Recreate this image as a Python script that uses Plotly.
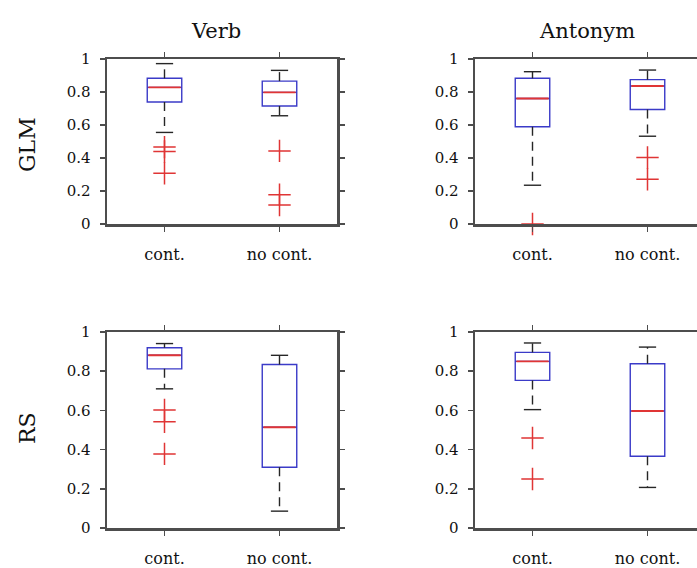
import plotly.graph_objects as go

# ---------------- data ----------------
categories = ["cont.", "no cont."]
column_titles = ["Verb", "Antonym"]
row_titles = ["GLM", "RS"]
y_tick_values = [0, 0.2, 0.4, 0.6, 0.8, 1]
y_tick_labels = ["0", "0.2", "0.4", "0.6", "0.8", "1"]

# Verb / GLM
verb_glm_lower = [0.555, 0.656]
verb_glm_q1 = [0.739, 0.715]
verb_glm_median = [0.828, 0.798]
verb_glm_q3 = [0.883, 0.866]
verb_glm_upper = [0.972, 0.931]
verb_glm_outliers = [[0.466, 0.439, 0.308], [0.443, 0.178, 0.115]]

# Antonym / GLM
antonym_glm_lower = [0.235, 0.532]
antonym_glm_q1 = [0.589, 0.694]
antonym_glm_median = [0.761, 0.836]
antonym_glm_q3 = [0.883, 0.875]
antonym_glm_upper = [0.923, 0.933]
antonym_glm_outliers = [[0.0], [0.403, 0.271]]

# Verb / RS
verb_rs_lower = [0.710, 0.086]
verb_rs_q1 = [0.812, 0.310]
verb_rs_median = [0.881, 0.514]
verb_rs_q3 = [0.920, 0.834]
verb_rs_upper = [0.941, 0.881]
verb_rs_outliers = [[0.602, 0.542, 0.378], []]

# Antonym / RS
antonym_rs_lower = [0.604, 0.207]
antonym_rs_q1 = [0.753, 0.366]
antonym_rs_median = [0.850, 0.597]
antonym_rs_q3 = [0.896, 0.838]
antonym_rs_upper = [0.944, 0.923]
antonym_rs_outliers = [[0.459, 0.250], []]

# ---------------- styling ----------------
FONT = "DejaVu Serif, serif"
AXIS_COLOR = "#4d4d4d"
BOX_COLOR = "#3b3bc8"
MED_COLOR = "#e03535"
WHISK_COLOR = "#262626"
BOX_W = 0.3
CAP_W = 0.15

panels = [
    ("x", "y", verb_glm_lower, verb_glm_q1, verb_glm_median, verb_glm_q3, verb_glm_upper, verb_glm_outliers),
    ("x2", "y2", antonym_glm_lower, antonym_glm_q1, antonym_glm_median, antonym_glm_q3, antonym_glm_upper, antonym_glm_outliers),
    ("x3", "y3", verb_rs_lower, verb_rs_q1, verb_rs_median, verb_rs_q3, verb_rs_upper, verb_rs_outliers),
    ("x4", "y4", antonym_rs_lower, antonym_rs_q1, antonym_rs_median, antonym_rs_q3, antonym_rs_upper, antonym_rs_outliers),
]

fig = go.Figure()
positions = [i + 1 for i in range(len(categories))]

for xa, ya, lo, q1, med, q3, up, outl in panels:
    fig.add_trace(go.Box(
        x=positions, q1=q1, median=med, q3=q3, lowerfence=q1, upperfence=q3,
        width=BOX_W, whiskerwidth=0, boxpoints=False,
        line=dict(color=BOX_COLOR, width=1.4), fillcolor="rgba(255,255,255,0)",
        xaxis=xa, yaxis=ya, showlegend=False, hoverinfo="skip",
    ))
    wx, wy, cx, cy, mx, my = [], [], [], [], [], []
    for p, l, a, m, b, u in zip(positions, lo, q1, med, q3, up):
        wx += [p, p, None, p, p, None]
        wy += [b, u, None, a, l, None]
        cx += [p - CAP_W / 2, p + CAP_W / 2, None, p - CAP_W / 2, p + CAP_W / 2, None]
        cy += [u, u, None, l, l, None]
        mx += [p - BOX_W / 2 + 0.01, p + BOX_W / 2 - 0.01, None]
        my += [m, m, None]
    fig.add_trace(go.Scatter(x=wx, y=wy, mode="lines", xaxis=xa, yaxis=ya,
                             line=dict(color=WHISK_COLOR, width=1.4, dash="9px,6px"),
                             showlegend=False, hoverinfo="skip"))
    fig.add_trace(go.Scatter(x=cx, y=cy, mode="lines", xaxis=xa, yaxis=ya,
                             line=dict(color=WHISK_COLOR, width=1.4),
                             showlegend=False, hoverinfo="skip"))
    fig.add_trace(go.Scatter(x=mx, y=my, mode="lines", xaxis=xa, yaxis=ya,
                             line=dict(color=MED_COLOR, width=1.9),
                             showlegend=False, hoverinfo="skip"))
    ox, oy = [], []
    for p, vals in zip(positions, outl):
        ox += [p] * len(vals)
        oy += list(vals)
    fig.add_trace(go.Scatter(x=ox, y=oy, mode="markers", xaxis=xa, yaxis=ya, cliponaxis=False,
                             marker=dict(symbol="cross-thin", size=16,
                                         line=dict(color=MED_COLOR, width=1.5)),
                             showlegend=False, hoverinfo="skip"))

W, H = 697, 568
left_dom = [107 / W, 337 / W]
right_dom = [475 / W, 1.0]
top_dom = [(H - 224) / H, (H - 59) / H]
bot_dom = [(H - 528) / H, (H - 332) / H]


def xaxis(domain, anchor, rng):
    return dict(domain=domain, anchor=anchor, range=rng, tickvals=positions, ticktext=categories,
                showline=True, linecolor=AXIS_COLOR, linewidth=2.5, mirror="ticks",
                ticks="outside", ticklen=5, tickwidth=1.5, tickcolor=AXIS_COLOR,
                showgrid=False, zeroline=False, tickfont=dict(family=FONT, size=16, color="#111"),
                ticklabelstandoff=9, fixedrange=True, automargin=False)


def yaxis(domain, anchor, mirror):
    return dict(domain=domain, anchor=anchor, range=[0, 1], tickvals=y_tick_values,
                ticktext=y_tick_labels, showline=True, linecolor=AXIS_COLOR, linewidth=2.5,
                mirror=mirror, ticks="outside", ticklen=5, tickwidth=1.5, tickcolor=AXIS_COLOR,
                showgrid=False, zeroline=False, tickfont=dict(family=FONT, size=15, color="#111"),
                ticklabelstandoff=6, fixedrange=True, automargin=False)


right_range = [0.5, 0.5 + 2 * (W - 475) / 230]


def label(text, x, y, size, angle=0):
    return dict(text=text, x=x / W, y=(H - y) / H, xref="paper", yref="paper",
                xanchor="center", yanchor="middle", showarrow=False, textangle=angle,
                font=dict(family=FONT, size=size, color="#111"))


fig.update_layout(
    template="none",
    width=W, height=H, margin=dict(l=0, r=0, t=0, b=0, pad=0, autoexpand=False),
    paper_bgcolor="white", plot_bgcolor="white",
    font=dict(family=FONT, color="#111"),
    xaxis=xaxis(left_dom, "y", [0.5, 2.5]),
    yaxis=yaxis(top_dom, "x", "ticks"),
    xaxis2=xaxis(right_dom, "y2", right_range),
    yaxis2=yaxis(top_dom, "x2", False),
    xaxis3=xaxis(left_dom, "y3", [0.5, 2.5]),
    yaxis3=yaxis(bot_dom, "x3", "ticks"),
    xaxis4=xaxis(right_dom, "y4", right_range),
    yaxis4=yaxis(bot_dom, "x4", False),
    annotations=[
        label(column_titles[0], 216, 31, 21),
        label(column_titles[1], 587, 31, 21),
        label(row_titles[0], 27, 144, 22, -90),
        label(row_titles[1], 27, 428, 22, -90),
    ],
)

fig.write_html(
    "out.html",
    config={"displayModeBar": False, "staticPlot": True},
    post_script="document.body.style.margin='0';document.body.style.overflow='hidden';",
)
